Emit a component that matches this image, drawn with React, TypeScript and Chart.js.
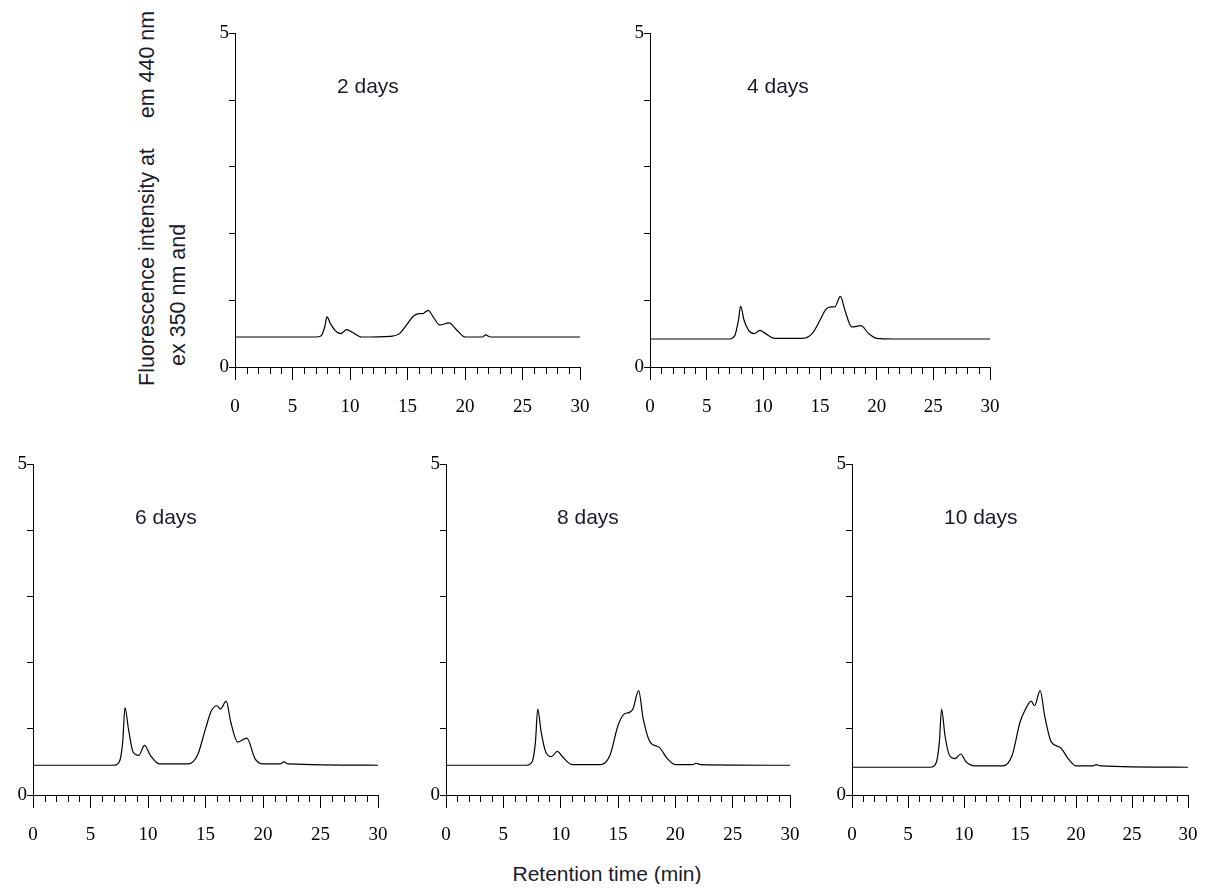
import { useEffect, useRef } from "react"
import { Chart, registerables } from "chart.js"

Chart.register(...registerables)

// shared retention times (min)
const times = [0, 7, 7.5, 7.8, 8, 8.3, 8.7, 9.2, 9.7, 10.2, 11, 13.5, 14.3, 15, 15.5, 16, 16.3, 16.8, 17.2, 17.8, 18.6, 19.3, 20, 21.5, 21.8, 22.2, 30]

const day2 = [0.45, 0.45, 0.47, 0.6, 0.75, 0.65, 0.55, 0.5, 0.56, 0.52, 0.45, 0.46, 0.5, 0.65, 0.76, 0.8, 0.8, 0.85, 0.76, 0.63, 0.66, 0.55, 0.45, 0.45, 0.48, 0.45, 0.45]
const day4 = [0.42, 0.42, 0.48, 0.7, 0.91, 0.7, 0.55, 0.5, 0.55, 0.5, 0.43, 0.43, 0.5, 0.7, 0.86, 0.9, 0.9, 1.06, 0.85, 0.6, 0.62, 0.5, 0.43, 0.42, 0.42, 0.42, 0.42]
const day6 = [0.45, 0.45, 0.5, 0.8, 1.32, 1.0, 0.65, 0.6, 0.75, 0.6, 0.47, 0.47, 0.6, 1.0, 1.27, 1.35, 1.3, 1.42, 1.1, 0.8, 0.86, 0.55, 0.47, 0.47, 0.5, 0.47, 0.45]
const day8 = [0.45, 0.45, 0.5, 0.8, 1.3, 0.95, 0.65, 0.58, 0.66, 0.57, 0.46, 0.46, 0.6, 1.05, 1.22, 1.25, 1.3, 1.58, 1.15, 0.8, 0.72, 0.55, 0.46, 0.46, 0.48, 0.46, 0.45]
const day10 = [0.42, 0.42, 0.48, 0.8, 1.3, 0.9, 0.6, 0.55, 0.62, 0.5, 0.44, 0.44, 0.6, 1.1, 1.3, 1.42, 1.35, 1.58, 1.2, 0.8, 0.72, 0.55, 0.44, 0.44, 0.46, 0.44, 0.42]

const xTicks = [0, 5, 10, 15, 20, 25, 30]

const panels = [
  { label: "2 days", values: day2, axisX: 235, top: 32, w: 345, h: 335, labelX: 337, labelY: 87 },
  { label: "4 days", values: day4, axisX: 650, top: 32, w: 340, h: 335, labelX: 747, labelY: 87 },
  { label: "6 days", values: day6, axisX: 33, top: 463, w: 345, h: 332, labelX: 135, labelY: 518 },
  { label: "8 days", values: day8, axisX: 446, top: 463, w: 344, h: 332, labelX: 557, labelY: 518 },
  { label: "10 days", values: day10, axisX: 852, top: 463, w: 336, h: 332, labelX: 944, labelY: 518 },
]

const LEFT = 30
const TOP = 10
const RIGHT = 14
const BOTTOM = 58

const minorTicks = {
  id: "minorTicks",
  afterDraw(chart: Chart) {
    const ctx = chart.ctx
    const x = chart.scales.x
    const y = chart.scales.y
    ctx.save()
    ctx.strokeStyle = "#000"
    ctx.lineWidth = 1
    for (let v = 0; v <= 30; v++) {
      if (v % 5 === 0) continue
      const px = Math.round(x.getPixelForValue(v)) + 0.5
      ctx.beginPath()
      ctx.moveTo(px, y.bottom)
      ctx.lineTo(px, y.bottom + 7)
      ctx.stroke()
    }
    ctx.restore()
  },
}

function Panel({ p }: { p: (typeof panels)[number] }) {
  const ref = useRef<HTMLCanvasElement>(null)
  useEffect(() => {
    if (!ref.current) return
    const chart = new Chart(ref.current, {
      type: "line",
      data: {
        datasets: [
          {
            data: times.map((t, i) => ({ x: t, y: p.values[i] })),
            borderColor: "#000",
            borderWidth: 1.2,
            pointRadius: 0,
            cubicInterpolationMode: "monotone",
          },
        ],
      },
      options: {
        animation: false,
        responsive: false,
        layout: { padding: { top: TOP, right: 0, left: 0, bottom: 0 } },
        plugins: { legend: { display: false }, tooltip: { enabled: false } },
        scales: {
          x: {
            type: "linear",
            min: 0,
            max: 30,
            afterFit: (s: any) => { s.height = BOTTOM; s.paddingRight = RIGHT; s.paddingLeft = 0 },
            afterBuildTicks: (s: any) => { s.ticks = xTicks.map((v) => ({ value: v })) },
            border: { color: "#000", width: 1 },
            grid: { drawOnChartArea: false, tickLength: 13, color: "#000" },
            ticks: { color: "#000", padding: 16, maxRotation: 0, font: { family: "Liberation Serif", size: 19 } },
          },
          y: {
            min: 0,
            max: 5,
            afterFit: (s: any) => { s.width = LEFT },
            ticks: {
              stepSize: 1,
              color: "#000",
              padding: 0,
              font: { family: "Liberation Serif", size: 19 },
              callback: (v: any) => (v === 0 || v === 5 ? String(v) : ""),
            },
            border: { color: "#000", width: 1 },
            grid: { drawOnChartArea: false, tickLength: 6, color: "#000" },
          },
        },
      },
      plugins: [minorTicks],
    })
    return () => chart.destroy()
  }, [p])
  const cw = p.w + LEFT + RIGHT
  const ch = p.h + TOP + BOTTOM
  return (
    <>
      <canvas
        ref={ref}
        width={cw}
        height={ch}
        style={{ position: "absolute", left: p.axisX - LEFT, top: p.top - TOP, width: cw, height: ch }}
      />
      <div style={{ position: "absolute", left: p.labelX, top: p.labelY - 13, fontSize: 21, color: "#1a1a2e" }}>{p.label}</div>
    </>
  )
}

const rot = (left: number, bottom: number, text: string) => (
  <div
    style={{
      position: "absolute",
      left,
      top: bottom,
      transform: "rotate(-90deg)",
      transformOrigin: "0 0",
      fontSize: 21.5,
      whiteSpace: "pre",
      color: "#1a1a2e",
      lineHeight: "24px",
    }}
  >
    {text}
  </div>
)

export default function App() {
  return (
    <div style={{ position: "relative", width: 1208, height: 892, margin: -8, background: "#fff", overflow: "hidden", fontFamily: "Liberation Sans, Arial, sans-serif" }}>
      {panels.map((p) => (
        <Panel key={p.label} p={p} />
      ))}
      {rot(135, 386, "Fluorescence intensity at     em 440 nm")}
      {rot(166, 366, "ex 350 nm and")}
      <div style={{ position: "absolute", left: 0, width: 1214, top: 862, textAlign: "center", fontSize: 21, color: "#1a1a2e" }}>
        Retention time (min)
      </div>
    </div>
  )
}
